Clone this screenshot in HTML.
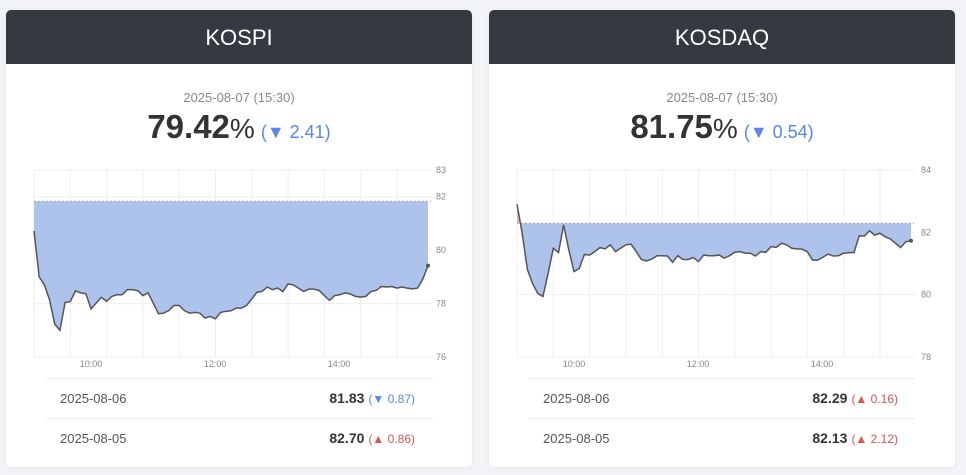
<!DOCTYPE html>
<html><head><meta charset="utf-8"><style>
body{margin:0;width:966px;height:475px;background:#f3f4f7;font-family:"Liberation Sans","Noto Sans CJK KR",sans-serif;position:relative;overflow:hidden}
.card{position:absolute;top:10px;width:466px;height:457px;background:#fff;border-radius:5px;box-shadow:0 1px 6px rgba(0,0,0,.06);overflow:hidden}
.hdr{height:54px;background:#343a40;color:#fff;font-size:22px;text-align:center;line-height:56px}
.date{position:absolute;top:80px;width:100%;text-align:center;color:#888;font-size:13px}
.big{position:absolute;top:98px;width:100%;text-align:center;font-size:33px;font-weight:bold;color:#333}
.big .pct{font-weight:normal;font-size:28px}
.big .chg{font-size:18px;font-weight:normal;color:#5b86e5;margin-left:6px}
svg.ch{position:absolute;left:0;top:140px}
.row{position:absolute;left:39px;width:388px;height:40px;border-top:1px solid #eee;font-size:13px;color:#555}
.row .d{position:absolute;left:15px;top:12px}
.row .v{position:absolute;right:18px;top:11px;font-size:14px;font-weight:bold;color:#333}
.row .v span{font-weight:normal;font-size:12px;margin-left:4px}
.dn{color:#5b86e5}.up{color:#d9534f}
</style></head><body>
<div class="card" style="left:6px">
<div class="hdr">KOSPI</div>
<div class="date">2025-08-07 (15:30)</div>
<div class="big">79.42<span class="pct">%</span><span class="chg">(▼ 2.41)</span></div>
<svg class="ch" id="c1" width="466" height="220"></svg>
<div class="row" style="top:368px"><span class="d">2025-08-06</span><span class="v">81.83<span class="dn">(▼ 0.87)</span></span></div>
<div class="row" style="top:408px"><span class="d">2025-08-05</span><span class="v">82.70<span class="up">(▲ 0.86)</span></span></div>
</div>
<div class="card" style="left:489px">
<div class="hdr">KOSDAQ</div>
<div class="date">2025-08-07 (15:30)</div>
<div class="big">81.75<span class="pct">%</span><span class="chg">(▼ 0.54)</span></div>
<svg class="ch" id="c2" width="466" height="220"></svg>
<div class="row" style="top:368px"><span class="d">2025-08-06</span><span class="v">82.29<span class="up">(▲ 0.16)</span></span></div>
<div class="row" style="top:408px"><span class="d">2025-08-05</span><span class="v">82.13<span class="up">(▲ 2.12)</span></span></div>
</div>
<script>
const kospiValues=[80.72,79.0,78.7,78.14,77.23,77.0,78.04,78.08,78.48,78.4,78.37,77.8,78.02,78.23,78.08,78.27,78.33,78.33,78.52,78.52,78.48,78.3,78.4,78.02,77.62,77.64,77.74,77.93,77.93,77.74,77.64,77.67,77.64,77.46,77.52,77.43,77.67,77.71,77.73,77.83,77.83,77.93,78.17,78.42,78.46,78.62,78.52,78.58,78.45,78.73,78.7,78.58,78.45,78.54,78.54,78.49,78.3,78.12,78.3,78.33,78.4,78.36,78.27,78.24,78.27,78.45,78.49,78.64,78.62,78.64,78.58,78.62,78.58,78.55,78.58,78.92,79.42];
const kospiBase=81.83;
const kospiTicks=[83,82,80,78,76];
const kosdaqValues=[82.9,81.97,80.81,80.36,80.04,79.94,80.68,81.49,81.35,82.24,81.43,80.74,80.84,81.29,81.27,81.38,81.51,81.47,81.6,81.38,81.49,81.6,81.62,81.38,81.13,81.08,81.14,81.25,81.25,81.24,81.04,81.25,81.13,81.13,81.19,81.06,81.27,81.25,81.25,81.27,81.17,81.25,81.36,81.38,81.33,81.33,81.24,81.38,81.36,81.54,81.52,81.65,81.6,81.49,81.47,81.46,81.38,81.11,81.11,81.2,81.3,81.24,81.25,81.33,81.35,81.35,81.89,81.88,82.05,81.91,81.97,81.86,81.79,81.65,81.51,81.7,81.73];
const kosdaqBase=82.29;
const kosdaqTicks=[84,82,80,78];
const timeLabels=["10:00","12:00","14:00"];
const timeHours=[10,12,14];
const NS="http://www.w3.org/2000/svg";
function mk(svg,t,a){const e=document.createElementNS(NS,t);for(const k in a)e.setAttribute(k,a[k]);svg.appendChild(e);return e;}
function draw(id,vals,base,ticks,x0,x1,lblX,pfx){
  const svg=document.getElementById(id);
  const top=20,bot=207,ymax=ticks[0],ymin=ticks[ticks.length-1];
  const y=v=>top+(ymax-v)/(ymax-ymin)*(bot-top);
  const x=i=>x0+i*(x1-x0)/(vals.length-1);
  const hx=h=>x0-5+(h-9)*62;
  for(let k=0;k<11;k++){const gx=x0+k*36.3;const l=mk(svg,'line',{x1:gx,x2:gx,y1:top,y2:bot,stroke:'#eee'});}
  ticks.forEach(t=>{const l=mk(svg,'line',{x1:x0,x2:x1+4,y1:y(t),y2:y(t),stroke:'#eee'});
    const tx=mk(svg,'text',{x:lblX,y:y(t)+3,'font-size':9,fill:'#888'});tx.textContent=t;});
  timeHours.forEach((h,i)=>{const tx=mk(svg,'text',{x:hx(h),y:bot+10,'font-size':9,fill:'#888','text-anchor':'middle'});tx.textContent=timeLabels[i];});
  const by=y(base);
  let d='M'+x(0)+','+by;vals.forEach((v,i)=>d+=' L'+x(i)+','+y(v));d+=' L'+x(vals.length-1)+','+by+'Z';
  const defs=mk(svg,'defs',{});
  const ca=mk(defs,'clipPath',{id:pfx+'a'});mk(ca,'rect',{x:0,y:0,width:466,height:by});
  const cb=mk(defs,'clipPath',{id:pfx+'b'});mk(cb,'rect',{x:0,y:by,width:466,height:220});
  const fa=mk(svg,'path',{d:d,fill:'#e9a0a0','fill-opacity':0.8,'clip-path':'url(#'+pfx+'a)'});
  const fb=mk(svg,'path',{d:d,fill:'#adc3ec','clip-path':'url(#'+pfx+'b)'});
  const bl=mk(svg,'line',{x1:x0,x2:x1+3,y1:by,y2:by,stroke:'#999','stroke-dasharray':'1.5,2.5'});
  let p='';vals.forEach((v,i)=>p+=(i?' L':'M')+x(i)+','+y(v));
  const ln=mk(svg,'path',{d:p,fill:'none',stroke:'#555','stroke-width':1.5});
  const dt=mk(svg,'circle',{cx:x(vals.length-1),cy:y(vals[vals.length-1]),r:2,fill:'#555'});
}
draw('c1',kospiValues,kospiBase,kospiTicks,28,422,430,'k1');
draw('c2',kosdaqValues,kosdaqBase,kosdaqTicks,28,422,432,'k2');
</script>
</body></html>
